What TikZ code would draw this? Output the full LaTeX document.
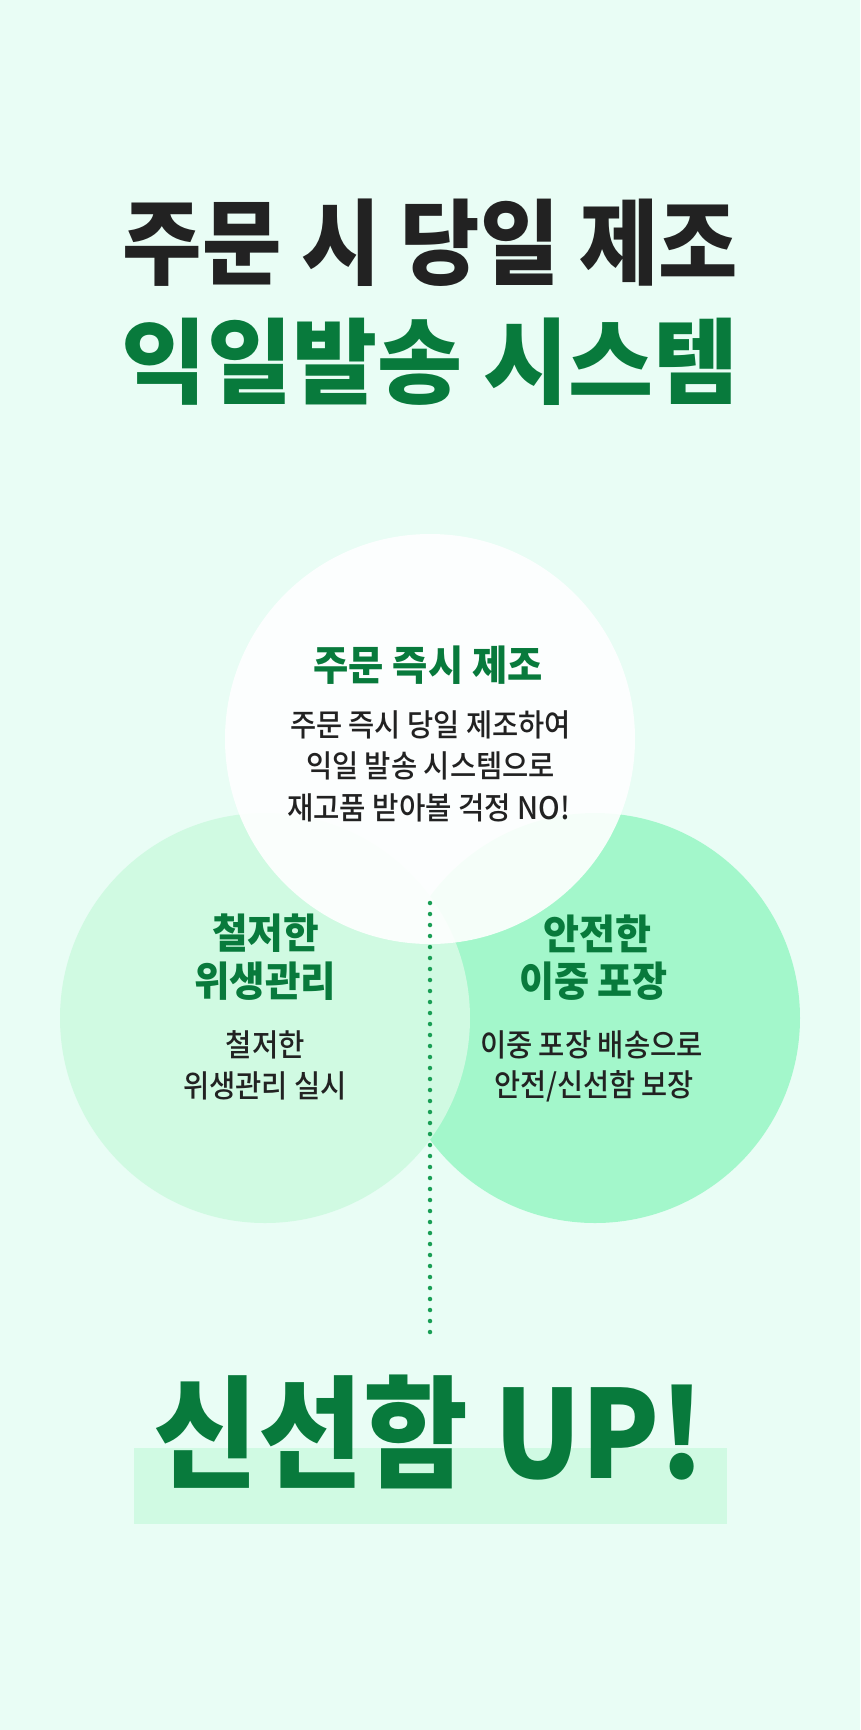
\documentclass[tikz,border=0pt]{standalone}
\usepackage{fontspec}
\usepackage{graphicx}
\setmainfont{Noto Sans CJK KR}
\newfontfamily\krblack{Noto Sans CJK KR Black}
\newfontfamily\krmed{Noto Sans CJK KR Medium}
\definecolor{bgc}{HTML}{E9FDF5}
\definecolor{leftc}{HTML}{D0FAE2}
\definecolor{rightc}{HTML}{A3F7CB}
\definecolor{darkt}{HTML}{222222}
\definecolor{greent}{HTML}{087A3C}
\definecolor{dotc}{HTML}{1A9E55}
\definecolor{hilite}{HTML}{D0FAE3}
\newcommand\fitw[2]{\resizebox{#1}{\height}{#2}}
\begin{document}
\begin{tikzpicture}[x=1pt,y=-1pt,
  txt/.style={inner sep=0pt, anchor=center},
  titlefont/.style={font=\fontsize{93}{100}\selectfont\krblack},
  headfont/.style={font=\fontsize{41}{46}\selectfont\krblack, text=greent},
  bodyfont/.style={font=\fontsize{31}{36}\selectfont\krmed, text=darkt},
  dotline/.style={draw=dotc, line width=4.5pt, line cap=round, dash pattern=on 0pt off 11pt}]
\path[use as bounding box, fill=bgc] (0,0) rectangle (860,1730);
% circles
\fill[rightc] (595,1018) circle[radius=205];
\fill[leftc] (265,1018) circle[radius=205];
\fill[white, opacity=0.9] (430,739) circle[radius=205];
% title
\node[txt, titlefont, text=darkt] (t1) at (430.5,242.5) {\fitw{615pt}{주문 시 당일 제조}};
\node[txt, titlefont, text=greent] (t2) at (430.5,361.5) {\fitw{617pt}{익일발송 시스템}};
% top circle text
\node[txt, headfont] (h1) at (428,665) {\fitw{229pt}{주문 즉시 제조}};
\node[txt, bodyfont] (b1) at (430.5,725) {\fitw{281pt}{주문 즉시 당일 제조하여}};
\node[txt, bodyfont] (b2) at (430.5,766) {\fitw{249pt}{익일 발송 시스템으로}};
\node[txt, bodyfont] (b3) at (428.5,808) {\fitw{283pt}{재고품 받아볼 걱정 NO!}};
% left circle text
\node[txt, headfont] (l1) at (265.5,933) {\fitw{107pt}{철저한}};
\node[txt, headfont] (l2) at (265,981) {\fitw{142pt}{위생관리}};
\node[txt, bodyfont] (l3) at (265.5,1045) {\fitw{79pt}{철저한}};
\node[txt, bodyfont] (l4) at (265,1086) {\fitw{164pt}{위생관리 실시}};
% right circle text
\node[txt, headfont] (r1) at (597,934) {\fitw{108pt}{안전한}};
\node[txt, headfont] (r2) at (593.5,981) {\fitw{149pt}{이중 포장}};
\node[txt, bodyfont] (r3) at (591.5,1045) {\fitw{223pt}{이중 포장 배송으로}};
\node[txt, bodyfont] (r4) at (594,1086) {\fitw{200pt}{안전/신선함 보장}};
% dotted connector
\coordinate (d1) at (430,903);
\coordinate (d2) at (430,1343);
\draw[dotline] (d1) -- (d2);
% bottom highlight and text
\fill[hilite] (134,1448) rectangle (727,1524);
\node[txt, font=\fontsize{122}{130}\selectfont\krblack, text=greent] (fin) at (429.5,1432) {\fitw{551pt}{신선함 UP!}};
\end{tikzpicture}
\end{document}
